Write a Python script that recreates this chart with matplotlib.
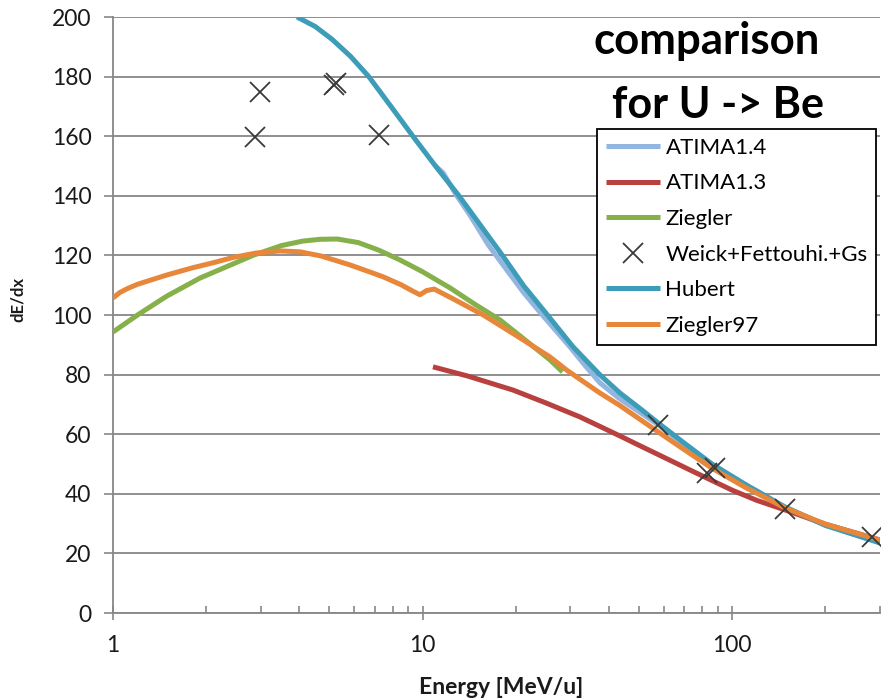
import matplotlib
matplotlib.use("Agg")
import matplotlib.pyplot as plt
from matplotlib.ticker import FixedLocator, LogLocator, NullFormatter, FixedFormatter

plt.rcParams['font.family'] = ['Lato', 'DejaVu Sans']

# ---- stopping power dE/dx vs energy (MeV/u) for U in Be ----
atima14_e = [11.0, 11.65, 12.8, 14.2, 16.3, 18.7, 21.2, 23.9, 26.8, 29.9, 33.5, 37.4,
             43.4, 50.4, 57.6, 70, 86, 110, 148, 200, 300]
atima14_v = [150.0, 147.7, 140.5, 133.6, 123.5, 115.1, 107.5, 101.0, 95.0, 89.3, 83.0, 77.2,
             71.8, 67.3, 63.2, 56.5, 49.6, 42.9, 35.4, 29.4, 23.7]

atima13_e = [10.8, 14.0, 19.6, 25.0, 32.2, 37.4, 44.0, 50.4, 60, 72, 85, 100, 120, 148, 200, 300]
atima13_v = [82.6, 79.5, 74.8, 70.5, 65.8, 62.6, 59.1, 56.1, 52.3, 48.3, 44.7, 41.2, 37.8, 34.6, 29.8, 24.5]

ziegler_e = [1.0, 1.2, 1.49, 1.91, 2.4, 2.83, 3.5, 4.1, 4.66, 5.3, 6.2, 7.2, 8.44, 10.0,
             12.3, 14.8, 17.8, 21.5, 25.8, 28.3]
ziegler_v = [94.3, 100.0, 106.3, 112.4, 116.8, 120.0, 123.3, 124.8, 125.4, 125.5, 124.3, 121.8,
             118.5, 114.5, 109.0, 103.5, 98.3, 91.5, 84.9, 80.9]

weick_e = [2.88, 2.98, 5.18, 5.24, 7.23, 57.6, 83, 88, 148, 283]
weick_v = [159.7, 174.8, 177.3, 177.8, 160.4, 63.1, 47.0, 48.7, 34.9, 25.5]

hubert_e = [3.93, 4.5, 5.1, 5.85, 6.7, 7.9, 9.3, 11.0, 13.1, 15.4, 18.1, 21.2, 25.3,
            30.5, 37.3, 43.4, 50.4, 57.6, 70, 86, 110, 148, 200, 300]
hubert_v = [200.0, 196.8, 192.5, 186.8, 180.0, 170.0, 160.0, 150.0, 140.0, 130.0, 120.0,
            109.8, 100.0, 89.5, 80.0, 73.8, 68.6, 63.8, 57.0, 50.0, 43.2, 35.6, 29.4, 23.5]

ziegler97_e = [1.0, 1.05, 1.12, 1.2, 1.35, 1.49, 1.8, 2.1, 2.44, 2.9, 3.46, 4.02, 4.7, 5.83,
               6.6, 7.46, 8.5, 9.3, 9.8, 10.3, 10.9, 12.5, 15.7, 20, 25.8, 29.2, 37.4, 43.4,
               57.6, 70, 86, 110, 148, 200, 300]
ziegler97_v = [105.7, 107.5, 109.0, 110.3, 112.0, 113.4, 115.8, 117.5, 119.3, 120.8, 121.5, 121.2,
               119.8, 116.8, 114.8, 112.8, 110.2, 108.0, 106.8, 108.2, 108.7, 105.5, 100.0, 93.2,
               85.9, 81.5, 73.8, 69.6, 60.8, 54.8, 48.6, 42.2, 35.3, 29.8, 24.5]

x_ticks = [1, 10, 100]
x_tick_labels = ['1', '10', '100']
y_ticks = list(range(0, 201, 20))

GRID = '#878787'
TEXT = '#1a1a1a'

fig = plt.figure(figsize=(8.88, 7.0), dpi=100)
ax = fig.add_axes([113 / 888, 87 / 700, (880 - 113) / 888, (613 - 17) / 700])

lw = 3.6
style = dict(lw=lw, solid_joinstyle='round', solid_capstyle='butt')
ax.plot(atima14_e, atima14_v, color='#93b6e0', label='ATIMA1.4', zorder=3, **style)
ax.plot(atima13_e, atima13_v, color='#b8413f', label='ATIMA1.3', zorder=3, **style)
ax.plot(ziegler_e, ziegler_v, color='#86b04a', label='Ziegler', zorder=3, **style)
ax.plot(weick_e, weick_v, ls='none', marker='x', ms=14, mew=1.3, color='#3a3a3a',
        label='Weick+Fettouhi.+Gs', zorder=6)
ax.plot(hubert_e, hubert_v, color='#3d9db8', label='Hubert', zorder=4, **style)
ax.plot(ziegler97_e, ziegler97_v, color='#e8873a', label='Ziegler97', zorder=5, **style)

ax.set_xscale('log')
ax.set_xlim(1, 300)
ax.set_ylim(0, 200)

ax.xaxis.set_major_locator(FixedLocator(x_ticks))
ax.xaxis.set_major_formatter(FixedFormatter(x_tick_labels))
ax.xaxis.set_minor_locator(LogLocator(base=10, subs=range(2, 10)))
ax.xaxis.set_minor_formatter(NullFormatter())
ax.yaxis.set_major_locator(FixedLocator(y_ticks))

ax.yaxis.grid(True, color=GRID, lw=1.3, zorder=0)
ax.set_axisbelow(True)
for s in ['top', 'right']:
    ax.spines[s].set_visible(False)
for s in ['left', 'bottom']:
    ax.spines[s].set_color(GRID)
    ax.spines[s].set_linewidth(1.3)

ax.tick_params(axis='x', which='major', direction='inout', length=10, width=1.2, color=GRID,
               pad=11, labelsize=16.5, labelcolor=TEXT)
ax.tick_params(axis='x', which='minor', direction='in', length=5, width=1.2, color=GRID)
ax.tick_params(axis='y', which='major', direction='out', length=6.5, width=1.2, color=GRID,
               pad=9, labelsize=16.5, labelcolor=TEXT)

fig.text(501 / 888, 1 - 688 / 700, 'Energy [MeV/u]', ha='center', va='center',
         fontsize=16.5, fontweight='bold', color=TEXT)
fig.text(18 / 888, 1 - 300 / 700, 'dE/dx', ha='center', va='center', rotation=90,
         fontsize=12, fontweight='bold', color=TEXT)

fig.text(593 / 888, 1 - 54 / 700, 'comparison', ha='left', va='baseline',
         fontsize=31.5, fontweight='bold', color='black', zorder=10)
fig.text(612 / 888, 1 - 118 / 700, 'for U -> Be', ha='left', va='baseline',
         fontsize=31, fontweight='bold', color='black', zorder=10)

leg = ax.legend(loc='upper left', bbox_to_anchor=(597 / 888, 1 - 129 / 700),
                bbox_transform=fig.transFigure, frameon=True, fancybox=False,
                edgecolor='black', framealpha=1, borderpad=0.4, borderaxespad=0,
                handlelength=2.45, handletextpad=0.23, labelspacing=0.7,
                fontsize=16, numpoints=1)
leg.get_frame().set_linewidth(1.3)
leg.set_zorder(8)

fig.savefig('out.png', dpi=100)
